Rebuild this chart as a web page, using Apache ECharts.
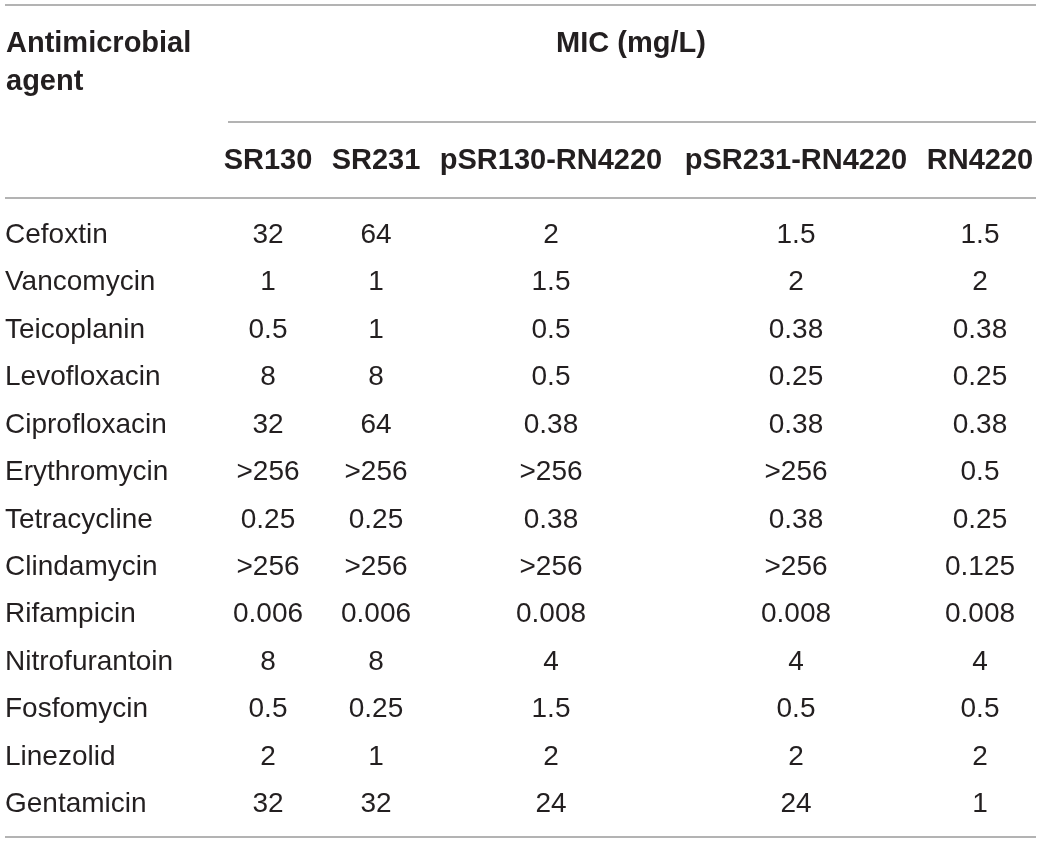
<!DOCTYPE html>
<html>
<head>
<meta charset="utf-8">
<script src="https://cdn.jsdelivr.net/npm/echarts@6/dist/echarts.min.js"></script>
<style>
html,body{margin:0;padding:0;background:#fff;}
#chart{width:1040px;height:843px;}
</style>
</head>
<body>
<div id="chart"></div>
<script>
// ---- data ----
const agents = ["Cefoxtin","Vancomycin","Teicoplanin","Levofloxacin","Ciprofloxacin","Erythromycin","Tetracycline","Clindamycin","Rifampicin","Nitrofurantoin","Fosfomycin","Linezolid","Gentamicin"];
const strains = ["SR130","SR231","pSR130-RN4220","pSR231-RN4220","RN4220"];
const micSR130 = ["32","1","0.5","8","32",">256","0.25",">256","0.006","8","0.5","2","32"];
const micSR231 = ["64","1","1","8","64",">256","0.25",">256","0.006","8","0.25","1","32"];
const micPSR130 = ["2","1.5","0.5","0.5","0.38",">256","0.38",">256","0.008","4","1.5","2","24"];
const micPSR231 = ["1.5","2","0.38","0.25","0.38",">256","0.38",">256","0.008","4","0.5","2","24"];
const micRN4220 = ["1.5","2","0.38","0.25","0.38","0.5","0.25","0.125","0.008","4","0.5","2","1"];
const headerAgent = ["Antimicrobial","agent"];
const headerGroup = "MIC (mg/L)";

// ---- layout (positions/styles) ----
const agentX = 5;
const colX = [268, 376, 551, 796, 980];
const micCols = [micSR130, micSR231, micPSR130, micPSR231, micRN4220];
const textColor = '#231f20';
const bodyFont = 'Liberation Sans, Helvetica, Arial, sans-serif';
const bodySize = 28;
const headSize = 29;
const ruleColor = '#9a9a9a';

const chart = echarts.init(document.getElementById('chart'));

const hiddenItem = {color: 'transparent', opacity: 1};
const series = [];
series.push({
  type: 'scatter',
  symbolSize: 1,
  itemStyle: hiddenItem,
  silent: true,
  data: agents.map(a => ({name: a, value: [agentX, a]})),
  label: {show: true, position: 'inside', align: 'left', verticalAlign: 'middle', opacity: 1,
    formatter: p => p.name, color: textColor, fontFamily: bodyFont, fontSize: bodySize}
});
micCols.forEach((col, i) => {
  series.push({
    type: 'scatter',
    name: strains[i],
    symbolSize: 1,
    itemStyle: hiddenItem,
    silent: true,
    data: col.map((v, r) => ({name: v, value: [colX[i], agents[r]]})),
    label: {show: true, position: 'inside', align: 'center', verticalAlign: 'middle', opacity: 1,
      formatter: p => p.name, color: textColor, fontFamily: bodyFont, fontSize: bodySize}
  });
});

const headStyle = (text, x, y, align) => ({
  type: 'text', x: x, y: y,
  style: {text: text, fill: textColor, font: 'bold ' + headSize + 'px ' + bodyFont, align: align, verticalAlign: 'middle'}
});
const rule = (x1, y, x2) => ({type: 'line', shape: {x1: x1, y1: y, x2: x2, y2: y}, style: {stroke: ruleColor, lineWidth: 1.5}});

const graphics = [
  rule(5, 5, 1036),
  rule(228, 122, 1036),
  rule(5, 198, 1036),
  rule(5, 837, 1036),
  headStyle(headerAgent[0], 6, 44, 'left'),
  headStyle(headerAgent[1], 6, 82, 'left'),
  headStyle(headerGroup, 631, 44, 'center')
];
strains.forEach((s, i) => graphics.push(headStyle(s, colX[i], 161, 'center')));

chart.setOption({
  animation: false,
  grid: {left: 0, right: 0, top: 211.3, bottom: 14.7},
  xAxis: {type: 'value', min: 0, max: 1040, show: false},
  yAxis: {type: 'category', data: agents, inverse: true, show: false},
  graphic: graphics,
  series: series
});
</script>
</body>
</html>
